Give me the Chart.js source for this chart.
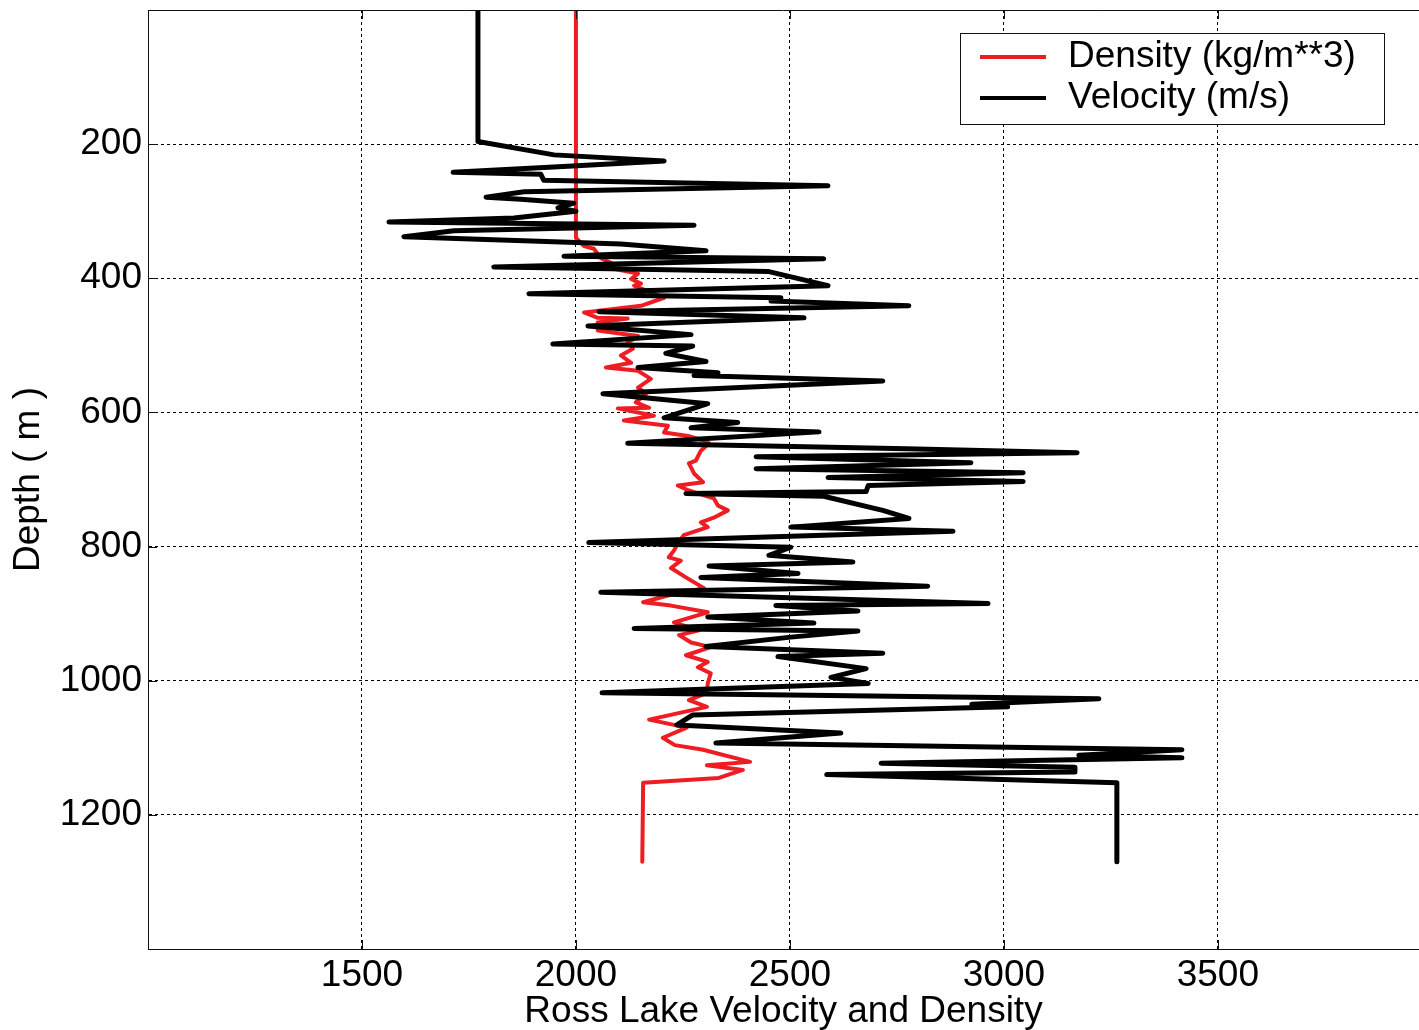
<!DOCTYPE html>
<html>
<head>
<meta charset="utf-8">
<title>Ross Lake Velocity and Density</title>
<script src="https://cdn.jsdelivr.net/npm/chart.js@4.4.1/dist/chart.umd.min.js"></script>
<style>
  html, body { margin: 0; padding: 0; background: #fff; }
</style>
</head>
<body>
<canvas id="myChart" width="1419" height="1030"></canvas>
<script>
// velocity log (m/s) against depth (m)
const velDepth = [0, 196, 216, 225, 233, 242, 245, 254, 262, 265, 271, 279, 282, 288, 295, 300, 310, 316, 319, 321,
  329, 338, 341, 349, 359, 367, 371, 383, 385, 390, 411, 423, 429, 434, 441, 450, 459, 471, 484, 498,
  501, 512, 524, 533, 541, 545, 553, 572, 587, 608, 615, 623, 629, 646, 654, 660, 666, 675, 684, 690,
  697, 703, 709, 718, 721, 725, 746, 758, 771, 777, 794, 801, 813, 823, 829, 840, 846, 859, 868, 885,
  888, 896, 905, 914, 922, 926, 935, 949, 959, 964, 982, 995, 1004, 1018, 1027, 1035, 1039, 1051, 1066, 1078,
  1093, 1103, 1111, 1115, 1123, 1129, 1136, 1140, 1152, 1270]
const velocity = [1771, 1771, 1949, 2206, 1981, 1713, 1918, 1925, 2589, 2355, 1879, 1790, 1871, 1995, 1958, 2000, 1855, 1563, 2005, 2276,
  1715, 1598, 1738, 2105, 2304, 1972, 2579, 1808, 2012, 2451, 2589, 1890, 2479, 2456, 2778, 2054, 2533, 2028, 2269, 1946,
  2273, 2210, 2304, 2145, 2332, 2276, 2717, 2063, 2308, 2206, 2378, 2269, 2568, 2121, 2773, 3171, 2421, 2923, 2421, 3045,
  2589, 3045, 2683, 2678, 2257, 2579, 2717, 2778, 2502, 2881, 2030, 2502, 2451, 2647, 2311, 2519, 2292, 2822, 2058, 2963,
  2467, 2659, 2308, 2556, 2136, 2659, 2502, 2304, 2717, 2472, 2678, 2596, 2683, 2061, 3222, 2925, 3009, 2273, 2236, 2619,
  2327, 3416, 3175, 3416, 2713, 3166, 3166, 2586, 3264, 3264]

// density log (kg/m**3) against depth (m)
const denDepth = [0, 340, 352, 356, 370, 379, 385, 393, 401, 408, 411, 429, 441, 451, 459, 460, 466, 478, 486, 496,
  505, 515, 526, 533, 538, 550, 563, 572, 585, 593, 594, 605, 612, 620, 630, 635, 642, 646, 657, 672,
  676, 691, 704, 709, 716, 728, 739, 746, 757, 764, 771, 783, 795, 806, 816, 821, 832, 846, 862, 873,
  883, 888, 898, 913, 925, 932, 943, 950, 962, 972, 980, 989, 1004, 1018, 1029, 1039, 1058, 1070, 1085, 1096,
  1103, 1121, 1126, 1133, 1145, 1152, 1270]
const density = [2000, 2000, 2019, 2042, 2058, 2089, 2082, 2145, 2129, 2152, 2136, 2206, 2152, 2019, 2051, 2121, 2051, 2051, 2145, 2121,
  2133, 2105, 2129, 2070, 2145, 2175, 2145, 2164, 2140, 2171, 2098, 2182, 2112, 2215, 2206, 2262, 2299, 2311, 2292, 2280,
  2264, 2276, 2297, 2238, 2262, 2322, 2332, 2355, 2322, 2292, 2308, 2252, 2238, 2229, 2217, 2245, 2222, 2257, 2299, 2215,
  2157, 2222, 2308, 2229, 2287, 2241, 2269, 2315, 2257, 2308, 2285, 2315, 2308, 2306, 2264, 2306, 2171, 2259, 2203, 2231,
  2297, 2407, 2306, 2390, 2334, 2157, 2155]

const xTicks = [1500, 2000, 2500, 3000, 3500]
const yTicks = [200, 400, 600, 800, 1000, 1200]

const FONT = '"Liberation Sans", Arial, Helvetica, sans-serif'
const RED = '#ee1d23'

// matlab style frame: top line, inward ticks and the boxed legend
const frame = {
  id: 'frame',
  afterDraw(chart) {
    const { ctx, chartArea: a, scales: { x, y } } = chart
    ctx.save()
    ctx.strokeStyle = '#111'
    ctx.lineWidth = 1
    ctx.setLineDash([])
    ctx.beginPath()
    ctx.moveTo(a.left, a.top + 0.5)
    ctx.lineTo(a.right, a.top + 0.5)
    xTicks.forEach(v => {
      const px = Math.round(x.getPixelForValue(v)) + 0.5
      ctx.moveTo(px, a.bottom); ctx.lineTo(px, a.bottom - 9)
      ctx.moveTo(px, a.top); ctx.lineTo(px, a.top + 9)
    })
    yTicks.forEach(v => {
      const py = Math.round(y.getPixelForValue(v)) + 0.5
      ctx.moveTo(a.left, py); ctx.lineTo(a.left + 9, py)
    })
    ctx.stroke()

    // legend
    ctx.fillStyle = '#fff'
    ctx.fillRect(960, 33, 424, 91)
    ctx.strokeStyle = '#111'
    ctx.strokeRect(960.5, 33.5, 424, 91)
    const items = [chart.data.datasets[0], chart.data.datasets[1]]
    const rows = [57, 98]
    ctx.font = '37px ' + FONT
    ctx.textBaseline = 'middle'
    ctx.textAlign = 'left'
    items.forEach((ds, i) => {
      ctx.strokeStyle = ds.borderColor
      ctx.lineWidth = 4
      ctx.beginPath()
      ctx.moveTo(980, rows[i]); ctx.lineTo(1046, rows[i])
      ctx.stroke()
      ctx.fillStyle = '#000'
      ctx.fillText(ds.label, 1068, rows[i])
    })
    ctx.restore()
  }
}

const ctx = document.getElementById('myChart')

const data = {
  datasets: [
    {
      label: 'Density (kg/m**3)',
      data: density.map((v, i) => ({ x: v, y: denDepth[i] })),
      borderColor: RED,
      borderWidth: 4,
      order: 1
    },
    {
      label: 'Velocity (m/s)',
      data: velocity.map((v, i) => ({ x: v, y: velDepth[i] })),
      borderColor: '#000',
      borderWidth: 5,
      order: 0
    }
  ]
}

const plain = v => String(v)

const options = {
  responsive: false,
  animation: false,
  devicePixelRatio: 1,
  showLine: true,
  layout: { padding: { top: 10, right: 0, bottom: 0, left: 0 } },
  elements: {
    point: { radius: 0 },
    line: { tension: 0, borderJoinStyle: 'round', borderCapStyle: 'round', fill: false }
  },
  plugins: { legend: { display: false }, tooltip: { enabled: false } },
  scales: {
    x: {
      type: 'linear',
      position: 'bottom',
      min: 1000,
      max: 3970,
      afterBuildTicks: s => { s.ticks = xTicks.map(v => ({ value: v })) },
      afterFit: s => { s.height = 81; s.paddingLeft = 0; s.paddingRight = 0 },
      ticks: { color: '#000', font: { family: FONT, size: 37 }, padding: 5, maxRotation: 0, callback: plain },
      grid: { color: '#000', lineWidth: 1, drawTicks: false },
      border: { display: true, color: '#111', width: 1, dash: [3, 3] },
      title: {
        display: true,
        text: 'Ross Lake Velocity and Density',
        color: '#000',
        font: { family: FONT, size: 37, lineHeight: 1 },
        padding: 0
      }
    },
    y: {
      type: 'linear',
      reverse: true,
      min: 0,
      max: 1400,
      afterBuildTicks: s => { s.ticks = yTicks.map(v => ({ value: v })) },
      afterFit: s => { s.width = 148; s.paddingTop = 0; s.paddingBottom = 0 },
      ticks: { color: '#000', font: { family: FONT, size: 37 }, padding: 6, callback: plain },
      grid: { color: '#000', lineWidth: 1, drawTicks: false },
      border: { display: true, color: '#111', width: 1, dash: [3, 3] },
      title: {
        display: true,
        text: 'Depth ( m )',
        color: '#000',
        font: { family: FONT, size: 37, lineHeight: 1 },
        padding: { top: 10, bottom: 0 }
      }
    }
  }
}

const myChart = new Chart(ctx, {
  type: 'scatter',
  data: data,
  options: options,
  plugins: [frame]
})
</script>
</body>
</html>
